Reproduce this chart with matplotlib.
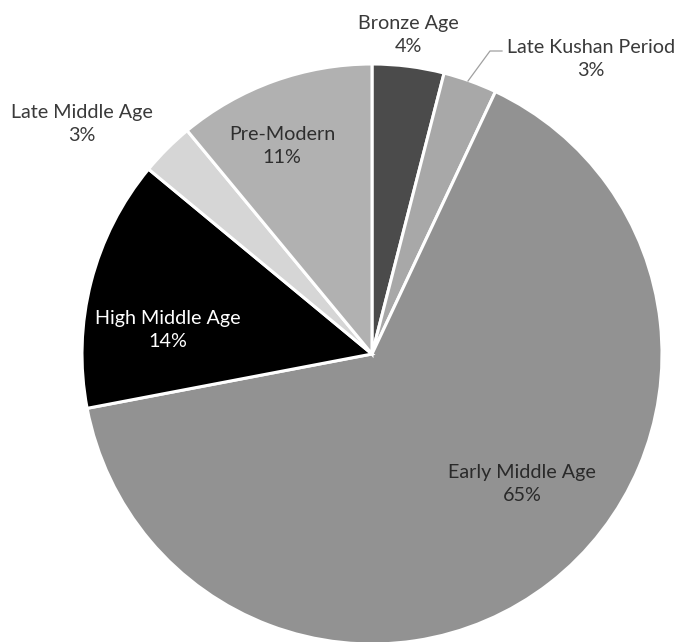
import matplotlib.pyplot as plt

# slices, clockwise from 12 o'clock
periods = ["Bronze Age", "Late Kushan Period", "Early Middle Age",
           "High Middle Age", "Late Middle Age", "Pre-Modern"]
shares = [4, 3, 65, 14, 3, 11]

colors = ["#4b4b4b", "#a8a8a8", "#929292", "#000000", "#d6d6d6", "#b1b1b1"]
text_colors = ["#3a3a3a", "#3a3a3a", "#2a2a2a", "#ffffff", "#3a3a3a", "#2e2e2e"]
# label centres in pixels (x, y from top)
label_px = [(408, 35), (591, 59), (522, 484), (168, 330), (82, 124), (282, 146)]

W, H = 677, 642
cx, cy, r = 372, 354, 290

fig = plt.figure(figsize=(W / 100, H / 100), dpi=100)
ax = fig.add_axes([(cx - r) / W, (H - cy - r) / H, 2 * r / W, 2 * r / H])

ax.pie(shares, colors=colors, startangle=90, counterclock=False, radius=1,
       wedgeprops=dict(edgecolor="white", linewidth=2.2), frame=True)
ax.set_xlim(-1, 1)
ax.set_ylim(-1, 1)
ax.set_aspect("auto")
ax.axis("off")


def to_data(px, py):
    return (px - cx) / r, (cy - py) / r


for name, val, (px, py), tc in zip(periods, shares, label_px, text_colors):
    x, y = to_data(px, py)
    ax.text(x, y, f"{name}\n{val}%", ha="center", va="center", color=tc,
            fontsize=14.2, family="Lato", linespacing=1.38)

# leader line for Late Kushan Period
p0 = to_data(468, 81)
p1 = to_data(490, 51)
p2 = to_data(502, 51)
ax.plot([p0[0], p1[0], p2[0]], [p0[1], p1[1], p2[1]], color="#a0a0a0", lw=0.9,
        clip_on=False)

fig.savefig("out.png", dpi=100, facecolor="white")
